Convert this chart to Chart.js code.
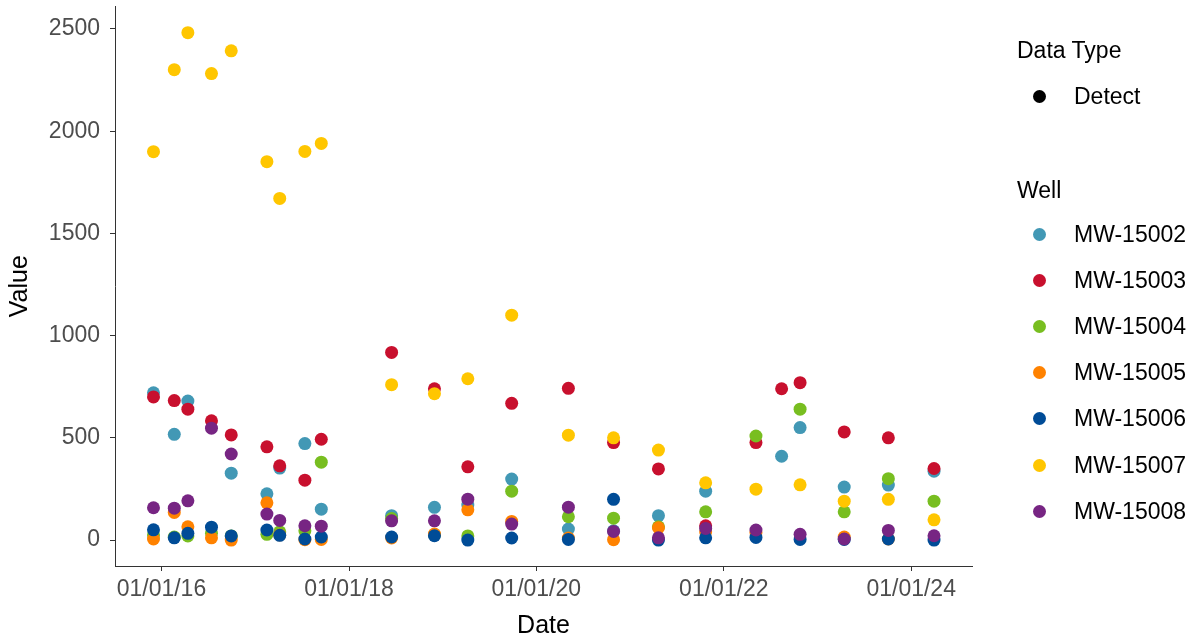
<!DOCTYPE html>
<html>
<head>
<meta charset="utf-8">
<script src="https://cdn.jsdelivr.net/npm/chart.js@4.4.1/dist/chart.umd.min.js"></script>
<style>
  html, body { margin: 0; padding: 0; background: #fff; }
  #wrap { position: relative; width: 1196px; height: 640px; font-family: "Liberation Sans", Arial, sans-serif; }
  #chart { position: absolute; left: 0; top: 0; }
  .legend-title { position: absolute; left: 1017px; font-size: 23px; line-height: 1; white-space: nowrap; color: #000; }
  .legend-item { position: absolute; left: 1017px; height: 24px; display: flex; align-items: center; font-size: 23px; line-height: 1; white-space: nowrap; color: #000; }
  .legend-item .dot { width: 13px; height: 13px; border-radius: 50%; margin-left: 16px; margin-right: 28px; }
</style>
</head>
<body>
<div id="wrap">
  <canvas id="chart" width="1196" height="640"></canvas>
  <div id="legend"></div>
</div>
<script>
// sample dates (one per sampling event)
const dates = [
  '2015-12-01', '2016-02-20', '2016-04-13', '2016-07-14', '2016-09-29',
  '2017-02-15', '2017-04-06', '2017-07-13', '2017-09-15', '2018-06-16',
  '2018-11-30', '2019-04-09', '2019-09-27', '2020-05-05', '2020-10-28',
  '2021-04-21', '2021-10-22', '2022-05-06', '2022-08-14', '2022-10-25',
  '2023-04-15', '2023-10-04', '2024-03-30'
];

const wells = ['MW-15002', 'MW-15003', 'MW-15004', 'MW-15005', 'MW-15006', 'MW-15007', 'MW-15008'];
const wellColors = ['#4298B5', '#C8102E', '#78BE20', '#FF8200', '#004C97', '#FFC600', '#772583'];

// values per well, null = not sampled
const mw15002 = [720, 517, 680, null, 327, 226, 352, 472, 151, 119, 160, 171, 298, 54, 45, 119, 239, null, 410, 550, 259, 269, 337];
const mw15003 = [700, 682, 640, 583, 514, 456, 363, 293, 493, 918, 740, 358, 669, 742, 477, 348, 70, 477, 740, 770, 529, 500, 350];
const mw15004 = [25, 15, 20, 33, 20, 28, 40, 45, 381, 105, 25, 20, 239, 114, 107, 65, 138, 509, null, 640, 138, 300, 190];
const mw15005 = [5, 135, 65, 11, 0, 182, 25, 2, 3, 10, 29, 148, 91, 10, 2, 60, 40, 37, null, null, 15, 5, null];
const mw15006 = [50, 11, 33, 63, 20, 49, 23, 5, 15, 15, 21, 0, 10, 3, 199, 0, 11, 13, null, 3, 3, 5, 0];
const mw15007 = [1900, 2301, 2482, 2282, 2393, 1851, 1671, 1901, 1940, 760, 716, 789, 1100, 513, 500, 440, 280, 249, null, 270, 190, 199, 99];
const mw15008 = [158, 156, 192, 547, 421, 127, 96, 70, 68, 94, 94, 200, 78, 161, 42, 11, 57, 49, null, 28, 5, 47, 21];
const wellValues = [mw15002, mw15003, mw15004, mw15005, mw15006, mw15007, mw15008];

const xTickDates = ['2016-01-01', '2018-01-01', '2020-01-01', '2022-01-01', '2024-01-01'];
const yTicks = [0, 500, 1000, 1500, 2000, 2500];

const toTime = s => Date.parse(s + 'T00:00:00Z');
const fmtDate = v => {
  const d = new Date(v);
  const p = n => String(n).padStart(2, '0');
  return p(d.getUTCMonth() + 1) + '/' + p(d.getUTCDate()) + '/' + p(d.getUTCFullYear() % 100);
};

const datasets = wells.map((name, i) => ({
  label: name,
  data: dates
    .map((d, j) => wellValues[i][j] == null ? null : { x: toTime(d), y: wellValues[i][j] })
    .filter(p => p),
  backgroundColor: wellColors[i],
  borderWidth: 0,
  pointRadius: 6.5,
  order: wells.length - i // later wells drawn on top
}));

const tickFont = { family: '"Liberation Sans", Arial, sans-serif', size: 23 };
const titleFont = { family: '"Liberation Sans", Arial, sans-serif', size: 25 };

new Chart(document.getElementById('chart'), {
  type: 'scatter',
  data: { datasets },
  options: {
    responsive: false,
    animation: false,
    devicePixelRatio: 1,
    layout: { padding: { left: 0, top: 6, right: 224, bottom: 0 } },
    plugins: { legend: { display: false }, tooltip: { enabled: false } },
    scales: {
      x: {
        type: 'linear',
        min: toTime('2015-07-04'),
        max: toTime('2024-08-25'),
        afterBuildTicks: s => { s.ticks = xTickDates.map(d => ({ value: toTime(d) })); },
        afterFit: s => { s.height = 74; s.paddingLeft = 0; s.paddingRight = 0; },
        grid: { display: true, drawOnChartArea: false, tickLength: 5, color: '#333', tickColor: '#333' },
        border: { display: true, color: '#333', width: 1 },
        ticks: { color: '#4D4D4D', font: tickFont, padding: 5, maxRotation: 0, autoSkip: false, callback: v => fmtDate(v) },
        title: { display: true, text: 'Date', color: '#000', font: { ...titleFont, lineHeight: 1 }, padding: { top: 0, bottom: 1 } }
      },
      y: {
        min: -127,
        max: 2610,
        afterBuildTicks: s => { s.ticks = yTicks.map(v => ({ value: v })); },
        afterFit: s => { s.width = 115; s.paddingTop = 0; s.paddingBottom = 0; },
        grid: { display: true, drawOnChartArea: false, tickLength: 5, color: '#333', tickColor: '#333' },
        border: { display: true, color: '#333', width: 1 },
        ticks: { color: '#4D4D4D', font: tickFont, padding: 10, callback: v => String(v) },
        title: { display: true, text: 'Value', color: '#000', font: titleFont, padding: { top: 5, bottom: 0 } }
      }
    }
  }
});

// legend (Data Type + Well), drawn in HTML to the right of the plot
const legend = document.getElementById('legend');
function addTitle(text, centerY) {
  const el = document.createElement('div');
  el.className = 'legend-title';
  el.textContent = text;
  el.style.top = (centerY - 11.5) + 'px';
  legend.appendChild(el);
}
function addItem(text, color, centerY) {
  const el = document.createElement('div');
  el.className = 'legend-item';
  el.style.top = (centerY - 12) + 'px';
  const dot = document.createElement('span');
  dot.className = 'dot';
  dot.style.background = color;
  const label = document.createElement('span');
  label.textContent = text;
  el.appendChild(dot);
  el.appendChild(label);
  legend.appendChild(el);
}
addTitle('Data Type', 50);
addItem('Detect', '#000', 96);
addTitle('Well', 190);
wells.forEach((w, i) => addItem(w, wellColors[i], 234 + i * 46.2));
</script>
</body>
</html>
